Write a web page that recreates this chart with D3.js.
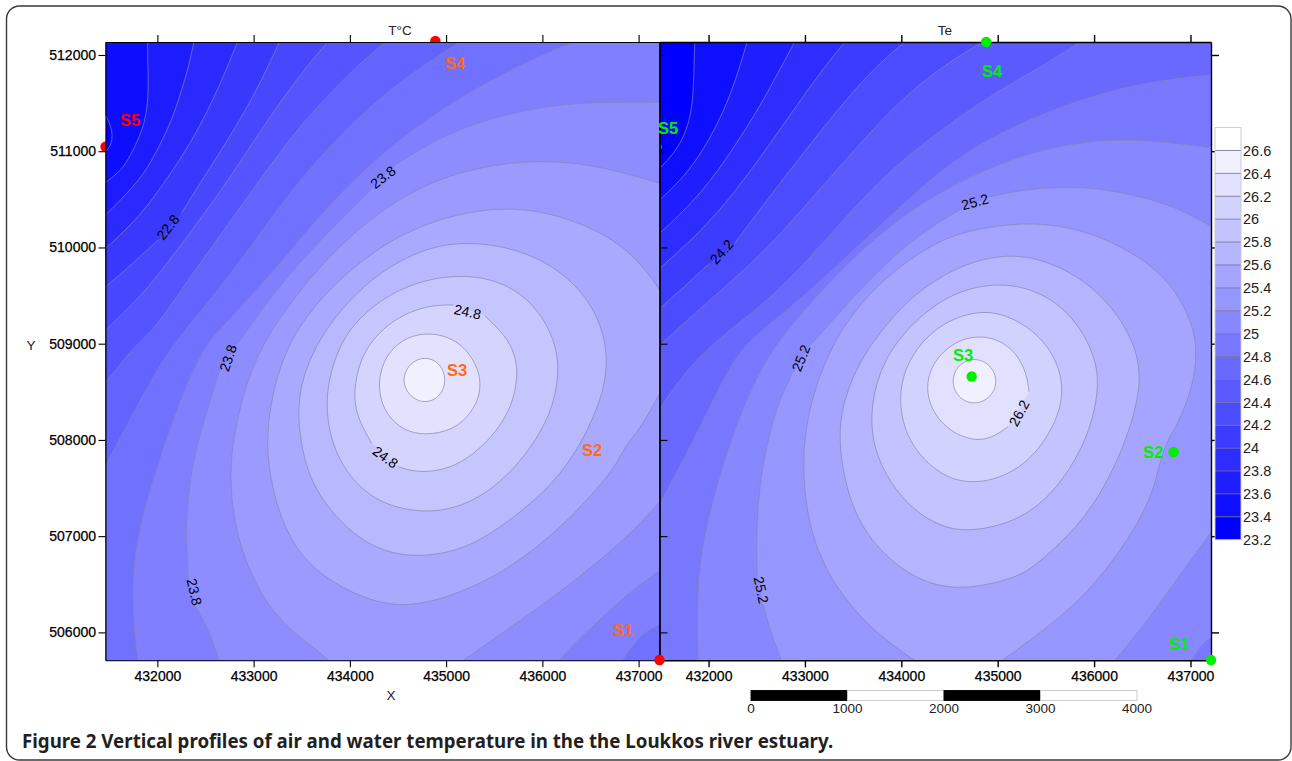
<!doctype html>
<html>
<head>
  <meta charset="utf-8">
  <script src="https://d3js.org/d3.v7.min.js"></script>
  <style>
    body { margin: 0; background: #fff; }
    svg { display: block; }
    text { font-family: "Liberation Sans", sans-serif; }
  </style>
</head>
<body>
  <div id="viz"></div>
  <script>
    // tick labels
    var xTicks = [432000, 433000, 434000, 435000, 436000, 437000];
    var yTicks = [506000, 507000, 508000, 509000, 510000, 511000, 512000];
    var barLevels = [23.2, 23.4, 23.6, 23.8, 24, 24.2, 24.4, 24.6, 24.8, 25, 25.2, 25.4, 25.6, 25.8, 26, 26.2, 26.4, 26.6];
    var barTop = 26.8;
    var scaleBarTicks = [0, 1000, 2000, 3000, 4000];

    // points far outside the map, used to close the filled regions
    var TR = [[440000, 514000]], BR = [[440000, 504000]], BL = [[429000, 504000]], TL = [[429000, 514000]];

    // T°C panel: contour levels and traced isolines, lowest first. A line may have several branches.
    var airLevels = [22, 22.2, 22.4, 22.6, 22.8, 23, 23.2, 23.4, 23.6, 23.8, 24, 24.2, 24.4, 24.6, 24.8, 25, 25.2];
    var airLines = [
      [[[431423,511445],[431509,511289],[431536,511168],[431517,511046],[431423,510960]], BL, BR, TR, TL],
      [[[431899,512173],[431899,511913],[431910,511636],[431884,511358],[431816,511150],[431723,510960],[431629,510804],[431461,510672],[431405,510637]], BL, BR, TR],
      [[[432386,512173],[432341,511948],[432285,511740],[432154,511324],[432023,511064],[431892,510803],[431686,510561],[431461,510335],[431405,510290]], BL, BR, TR],
      [[[432847,512173],[432716,511844],[432529,511428],[432341,511081],[432117,510734],[431817,510318],[431461,509988],[431405,509936]], BL, BR, TR],
      [[[433285,512173],[433165,511913],[432978,511532],[432753,511150],[432529,510803],[432248,510353]], [[432004,510075],[431742,509832],[431461,509590],[431405,509538]], BL, BR, TR],
      [[[433802,512173],[433577,511913],[433315,511566],[433053,511185],[432828,510838],[432566,510457],[432229,510006],[431892,509555],[431461,509139],[431405,509087]], BL, BR, TR],
      [[[434420,512173],[434101,511913],[433727,511532],[433390,511150],[433090,510734],[432716,510214],[432341,509694],[431967,509139],[431780,508992],[431630,508801],[431461,508593],[431405,508524]], BL, BR, TR],
      [[[435206,512173],[434850,511948],[434401,511636],[433952,511220],[433502,510734],[433090,510179],[432641,509555],[432154,508992],[431892,508541],[431667,508124],[431461,507725],[431405,507639]], BL, BR, TR],
      [[[431809,505661],[431761,505973],[431742,506390],[431761,506771],[431836,507188],[432004,507743],[432229,508402],[432491,508992],[432678,509173],[433278,509832],[433727,510387],[434251,510908],[434775,511324],[435337,511670],[435899,511965],[436423,512173]], TR,
       [[437285,506112],[437098,506025],[436985,505931],[436835,505713],[436779,505643]]],
      [[[432660,505661],[432528,506043],[432386,506285]], [[432322,506563],[432304,506910],[432304,507257],[432360,507743],[432491,508229],[432641,508697]], [[432847,509017],[433278,509624],[433727,510110],[434214,510595]], [[434495,510873],[435000,511185],[435525,511358],[436086,511480],[436648,511514],[437285,511507]],
       [[437285,506684],[437023,506511],[436723,506251],[436423,505973],[436142,505678]]],
      [[[433839,505661],[433615,505851],[433278,506104],[433015,506494],[432828,506979],[432753,507500],[432772,507951],[432903,508541],[433090,508992],[433352,509382],[433652,509763],[434027,510145],[434476,510491],[434963,510734],[435525,510873],[436086,510907],[436648,510838],[437285,510647]],
       [[437285,507430],[436948,507049],[436461,506632],[435899,506208],[435450,505904],[435113,505661]]],
      [[[437285,508576],[437210,508472],[437023,508124],[436910,508003],[436816,507847],[436723,507673],[436423,507326],[436086,506997],[435637,506650],[435150,506407],[434607,506251],[434176,506337],[433802,506528],[433540,506737],[433315,507083],[433184,507534],[433128,507951],[433184,508472],[433352,508992],[433615,509382],[433989,509763],[434438,510092],[434963,510318],[435637,510439],[436274,510318],[436835,510040],[437135,509694],[437285,509451]]],
      [[[435248,510053],[435629,510008],[436010,509870],[436321,509644],[436546,509350],[436668,509004],[436668,508657],[436581,508346],[436390,507930],[436113,507549],[435802,507272],[435455,507013],[435109,506839],[434694,506780],[434347,506839],[434036,507013],[433759,507307],[433551,507653],[433454,508173],[433482,508588],[433655,509004],[433897,509350],[434243,509696],[434624,509921],[434936,510025]]],
      [[[435144,509710],[435455,509679],[435767,509541],[436010,509281],[436148,508969],[436172,508692],[436113,508346],[435940,508000],[435698,507688],[435421,507445],[435109,507290],[434798,507248],[434486,507290],[434209,507411],[433966,507653],[433811,507965],[433752,508311],[433776,508623],[433897,509004],[434105,509281],[434417,509523],[434798,509672]]],
      [[[434503,507722],[434624,507681],[434798,507664],[435040,507705],[435282,507844],[435525,508086],[435681,508346],[435750,508657],[435715,508900],[435611,509090],[435404,509288]], [[435075,509402],[434901,509402],[434694,509360],[434451,509246],[434243,509056],[434105,508831],[434036,508502],[434070,508242],[434226,507965]]],
      [[[434832,509118],[435075,509056],[435248,508900],[435352,508692],[435359,508484],[435265,508277],[435075,508103],[434787,508045],[434555,508097],[434382,508259],[434302,508467],[434306,508692],[434399,508917],[434590,509073]]],
      [[[434780,508869],[434939,508803],[435009,508623],[434939,508443],[434780,508377],[434621,508443],[434534,508623],[434621,508803]]]
    ];
    var airRings = [12, 13, 15, 16];

    // Te panel
    var waterLevels = [23.4, 23.6, 23.8, 24, 24.2, 24.4, 24.6, 24.8, 25, 25.2, 25.4, 25.6, 25.8, 26, 26.2, 26.4];
    var waterLines = [
      [[[431858,512173],[431850,511913],[431839,511497],[431783,511254],[431708,511081],[431596,510925],[431491,510821],[431447,510786]], BL, BR, TR],
      [[[432411,512173],[432325,511879],[432195,511497],[432008,511116],[431783,510769],[431491,510491],[431447,510450]], BL, BR, TR],
      [[[432913,512173],[432756,511879],[432531,511462],[432269,511046],[431933,510561],[431491,510144],[431447,510103]], BL, BR, TR],
      [[[433447,512173],[433204,511879],[432905,511462],[432569,510977],[432157,510422],[431783,510040],[431491,509780],[431447,509739]], BL, BR, TR],
      [[[434083,512173],[433765,511913],[433391,511497],[432980,510977],[432606,510491],[432269,510040]], [[432008,509832],[431746,509590],[431491,509364],[431447,509323]], BL, BR, TR],
      [[[434906,512173],[434439,511896],[433990,511532],[433541,511046],[433055,510491],[432569,509937],[431970,509416],[431491,508983],[431447,508941]], BL, BR, TR],
      [[[435916,512173],[435486,511896],[434925,511584],[434364,511185],[433878,510803],[433391,510283],[432943,509763],[432456,509312],[432008,508983],[431671,508593],[431491,508315],[431447,508246]], BL, BR, TR],
      [[[437281,511799],[436683,511740],[436122,511618],[435561,511428],[435000,511185],[434439,510838],[433878,510318],[433391,509867],[432980,509486],[432643,509208],[432363,508983],[432157,508645],[431858,508020],[431634,507604],[431491,507326],[431447,507240]], BL, BR],
      [[[431895,505661],[431877,506390],[431933,506910],[432082,507534],[432307,508221],[432531,508714],[432699,508992],[433017,509382],[433466,509867],[433990,510318],[434551,510665],[435187,510942],[435748,511081],[436196,511122],[436683,511105],[437281,511029]],
       [[437281,505990],[437169,505921],[437075,505817],[437000,505696],[436963,505644]]],
      [[[432774,505661],[432643,506000],[432569,506278]], [[432505,506573],[432494,507041],[432531,507604],[432681,508298],[432860,508672]], [[433055,508983],[433317,509278],[433691,509694],[434139,510110],[434626,510405]], [[434918,510526],[435187,510588],[435748,510647],[436309,510578],[436870,510422],[437281,510179]],
       [[437281,507136],[436870,506563],[436496,506043],[436178,505661]]],
      [[[434214,505661],[433803,505930],[433354,506390],[433055,506979],[432961,507708],[433036,508368],[433279,508992],[433541,509382],[433915,509763],[434439,510110],[434887,510214],[435374,510266],[435935,510179],[436496,509902],[436832,509590],[437019,509208],[437057,508983],[437057,508818],[437019,508541],[436870,508159],[436758,508003],[436664,507708],[436626,507500],[436421,507049],[435935,506390],[435411,505973],[434981,505661]]],
      [[[434626,506431],[434177,506528],[433765,506841],[433466,507292],[433336,507990],[433399,508415],[433571,508831],[433848,509212],[434159,509541],[434609,509818],[435058,509932],[435439,509887],[435819,509714],[436130,509454],[436372,509108],[436483,508762],[436459,508415],[436321,507965],[436130,507549],[435888,507168],[435577,506857],[435370,506683],[435187,506563]]],
      [[[434989,509627],[435300,509586],[435612,509437],[435854,509177],[436009,508865],[436051,508588],[435992,508207],[435819,507792],[435543,507411],[435197,507151],[434713,507040],[434401,507099],[434125,507272],[433883,507549],[433717,507896],[433675,508277],[433762,508692],[433952,509038],[434263,509350],[434609,509558]]],
      [[[434816,509350],[435093,509298],[435370,509142],[435577,508900],[435674,508623],[435663,508346],[435525,508034],[435300,507757],[435024,507601],[434747,507549],[434471,507601],[434228,507792],[434056,508034],[433980,508346],[434004,508657],[434159,508969],[434436,509229]]],
      [[[435325,508502],[435300,508692],[435197,508900],[435024,509038],[434816,509083],[434609,509045],[434401,508900],[434280,508692],[434263,508484],[434332,508277],[434505,508086],[434747,507989],[434937,508017],[435110,508138]]],
      [[[434756,508860],[434930,508785],[435005,508610],[434930,508435],[434756,508360],[434585,508435],[434515,508610],[434585,508785]]]
    ];
    var waterRings = [11, 12, 13, 15];

    // labels sitting on the isolines: value, X, Y
    var airLabels = [["22.8",432110,510212],["23.8",434344,510732],["23.8",432734,508851],["23.8",432385,506420],["24.8",435223,509332],["24.8",434369,507822]];
    var airLabelAngles = [-52, -38, -72, 77, 12, 36];
    var waterLabels = [["24.2",432136,509955],["25.2",434764,510475],["25.2",432959,508851],["25.2",432547,506440],["26.2",435221,508279]];
    var waterLabelAngles = [-48, -15, -68, 78, -62];

    // stations: sampling point, then the place of its name
    var airStations = [["S1",437217,505713,436838,506025],["S2",null,null,436516,507895],["S3",null,null,435113,508726],["S4",434888,512146,435092,511915],["S5",431461,511046,431716,511324]];
    var waterStations = [["S1",437213,505713,436881,505879],["S2",436825,507875,436611,507877],["S3",434730,508659,434640,508882],["S4",434880,512135,434941,511834],["S5",431461,511046,431579,511241]];

    var svg = d3.select("#viz").append("svg").attr("width", 1292).attr("height", 761);

    var y = d3.scaleLinear().domain([505710, 512135]).range([660.3, 42]);
    var xAir = d3.scaleLinear().domain([431461, 437217]).range([105.5, 659.5]);
    var xWater = d3.scaleLinear().domain([431491, 437213]).range([659.5, 1211]);

    var inkLine = "#8686a6";
    var tickText = "#000";

    // outer frame
    svg.append("rect").attr("x", 6.5).attr("y", 6).attr("width", 1284.5).attr("height", 754)
       .attr("rx", 13).attr("fill", "#fff").attr("stroke", "#3a3a3a").attr("stroke-width", 1.4);

    function branchPath(branches, x, curve) {
      var line = d3.line().x(function(d) { return x(d[0]); }).y(function(d) { return y(d[1]); }).curve(curve);
      return branches.map(function(b, i) {
        if (b.length == 1) return "L" + x(b[0][0]) + "," + y(b[0][1]);
        var d = line(b);
        return i ? "L" + d.slice(1) : d;
      }).join("") + "Z";
    }

    function drawPanel(id, x, lines, rings, bandColor) {
      var box = x.range();
      svg.append("clipPath").attr("id", id).append("rect")
         .attr("x", box[0]).attr("y", y.range()[1])
         .attr("width", box[1] - box[0]).attr("height", y.range()[0] - y.range()[1]);
      var g = svg.append("g").attr("clip-path", "url(#" + id + ")");
      g.append("rect").attr("x", box[0]).attr("y", y.range()[1])
         .attr("width", box[1] - box[0]).attr("height", y.range()[0] - y.range()[1])
         .attr("fill", bandColor(0));
      var open = d3.curveBasis, closed = d3.curveBasisClosed;
      // painter's order: every level covers what lies above it
      lines.forEach(function(branches, i) {
        var ring = rings.indexOf(i) >= 0;
        g.append("path").attr("d", branchPath(branches, x, ring ? closed : open)).attr("fill", bandColor(i + 1));
      });
      lines.forEach(function(branches, i) {
        var ring = rings.indexOf(i) >= 0;
        var line = d3.line().x(function(d) { return x(d[0]); }).y(function(d) { return y(d[1]); }).curve(ring ? closed : open);
        branches.filter(function(b) { return b.length > 1; }).forEach(function(b) {
          g.append("path").attr("d", line(b)).attr("fill", "none").attr("stroke", inkLine).attr("stroke-width", 0.7);
        });
      });
    }

    function contourLabels(labels, angles, x) {
      svg.selectAll(null).data(labels).enter().append("text")
         .attr("transform", function(d, i) { return "translate(" + x(d[1]) + "," + y(d[2]) + ") rotate(" + angles[i] + ")"; })
         .attr("text-anchor", "middle").attr("dy", "0.36em")
         .attr("font-size", 14).attr("fill", "#000")
         .text(function(d) { return d[0]; });
    }

    function dot(x, X, Y, color) {
      svg.append("circle").attr("cx", x(X)).attr("cy", y(Y)).attr("r", 5.2).attr("fill", color);
    }

    function stationNames(stations, x, colorOf) {
      svg.selectAll(null).data(stations).enter().append("text")
         .attr("x", function(d) { return x(d[3]); })
         .attr("y", function(d) { return y(d[4]); })
         .attr("text-anchor", "middle").attr("dy", "0.36em")
         .attr("font-size", 16.5).attr("font-weight", "bold")
         .attr("fill", colorOf)
         .text(function(d) { return d[0]; });
    }

    // right panel goes down first, its S5 dot and the red dots then slip under the left panel
    var waterColor = function(k) { var v = Math.round(15 * k); return "rgb(" + v + "," + v + ",255)"; };
    var airColor = function(k) { var v = Math.round(k * 240 / 17); return "rgb(" + v + "," + v + ",255)"; };

    drawPanel("clipWater", xWater, waterLines, waterRings, waterColor);
    dot(xWater, 431460, waterStations[4][2], "#00ee00");
    dot(xAir, airStations[3][1], airStations[3][2], "#ff0000");
    dot(xAir, airStations[4][1], airStations[4][2], "#ff0000");
    drawPanel("clipAir", xAir, airLines, airRings, airColor);

    contourLabels(airLabels, airLabelAngles, xAir);
    contourLabels(waterLabels, waterLabelAngles, xWater);

    // axes
    function styleAxis(g, width) {
      g.selectAll("path,line").attr("stroke", "#000").attr("stroke-width", width);
      g.selectAll("text").attr("font-family", "Liberation Sans").attr("font-size", 14)
       .attr("fill", tickText).attr("stroke", tickText).attr("stroke-width", 0.25);
    }
    function panelAxes(x, width) {
      var fmt = d3.format("d");
      var left = x.range()[0], right = x.range()[1], top = y.range()[1], bottom = y.range()[0];
      svg.append("g").attr("transform", "translate(0," + bottom + ")")
         .call(d3.axisBottom(x).tickValues(xTicks).tickFormat(fmt).tickSize(7).tickPadding(4).tickSizeOuter(0)).call(styleAxis, width);
      svg.append("g").attr("transform", "translate(0," + top + ")")
         .call(d3.axisTop(x).tickValues(xTicks).tickFormat("").tickSize(7).tickSizeOuter(0)).call(styleAxis, width);
      svg.append("g").attr("transform", "translate(" + right + ",0)")
         .call(d3.axisRight(y).tickValues(yTicks).tickFormat("").tickSize(8).tickSizeOuter(0)).call(styleAxis, width);
      svg.append("g").attr("transform", "translate(" + left + ",0)")
         .call(d3.axisLeft(y).tickValues(yTicks).tickFormat(x === xAir ? fmt : "").tickSize(x === xAir ? 7 : 0).tickPadding(2.5).tickSizeOuter(0)).call(styleAxis, width);
    }
    panelAxes(xAir, 1.1);
    panelAxes(xWater, 1.4);

    // dots and names on top
    dot(xAir, airStations[0][1], airStations[0][2], "#ff0000");
    waterStations.slice(0, 4).forEach(function(s) { dot(xWater, s[1], s[2], "#00ee00"); });
    stationNames(airStations, xAir, function(d) { return d[0] == "S5" ? "#ff0000" : "#ff6a1a"; });
    stationNames(waterStations, xWater, function() { return "#00ee00"; });

    // axis titles
    function title(txt, px, py) {
      svg.append("text").attr("x", px).attr("y", py).attr("text-anchor", "middle").attr("dy", "0.36em")
         .attr("font-size", 13.5).attr("fill", "#222").text(txt);
    }
    title("T°C", 400, 30);
    title("Te", 945, 30);
    title("Y", 31, 345);
    title("X", 391, 695);

    // colour bar
    var barY = d3.scaleLinear().domain([23.2, 26.8]).range([539.7, 127.6]);
    var barX = 1215, barW = 26;
    svg.selectAll(".band").data(barLevels).enter().append("rect").attr("class", "band")
       .attr("x", barX).attr("width", barW)
       .attr("y", function(d, i) { return barY(i < barLevels.length - 1 ? barLevels[i + 1] : barTop); })
       .attr("height", function(d, i) { return barY(d) - barY(i < barLevels.length - 1 ? barLevels[i + 1] : barTop); })
       .attr("fill", function(d, i) { return waterColor(i); });
    svg.selectAll(".bandline").data(barLevels.slice(1)).enter().append("line").attr("class", "bandline")
       .attr("x1", barX).attr("x2", barX + barW)
       .attr("y1", function(d) { return barY(d); }).attr("y2", function(d) { return barY(d); })
       .attr("stroke", "#70708c").attr("stroke-width", 0.8);
    svg.append("rect").attr("x", barX).attr("y", barY(barTop)).attr("width", barW).attr("height", barY(23.2) - barY(barTop))
       .attr("fill", "none").attr("stroke", "#c8c8c8").attr("stroke-width", 0.9);
    svg.selectAll(".barlabel").data(barLevels).enter().append("text").attr("class", "barlabel")
       .attr("x", 1243).attr("y", function(d) { return barY(d); }).attr("dy", "0.36em")
       .attr("font-size", 14.5).attr("fill", "#222")
       .text(function(d) { return d; });

    // scale bar
    var scaleX = d3.scaleLinear().domain([0, 4000]).range([751, 1137]);
    svg.selectAll(".seg").data(scaleBarTicks.slice(0, 4)).enter().append("rect").attr("class", "seg")
       .attr("x", function(d) { return scaleX(d); }).attr("y", 690.5)
       .attr("width", function(d) { return scaleX(d + 1000) - scaleX(d); }).attr("height", 10)
       .attr("fill", function(d, i) { return i % 2 ? "#fff" : "#000"; })
       .attr("stroke", function(d, i) { return i % 2 ? "#c8c8c8" : "#000"; }).attr("stroke-width", 0.9);
    svg.selectAll(".seglabel").data(scaleBarTicks).enter().append("text").attr("class", "seglabel")
       .attr("x", function(d) { return scaleX(d); }).attr("y", 713)
       .attr("text-anchor", "middle").attr("font-size", 13.5).attr("fill", "#222")
       .text(function(d) { return d; });

    // caption
    svg.append("text").attr("x", 22).attr("y", 748)
       .style("font-family", "'Noto Sans', sans-serif").attr("font-size", 18.7).attr("font-weight", "bold").attr("fill", "#231f20")
       .text("Figure 2 Vertical profiles of air and water temperature in the the Loukkos river estuary.");
  </script>
</body>
</html>
